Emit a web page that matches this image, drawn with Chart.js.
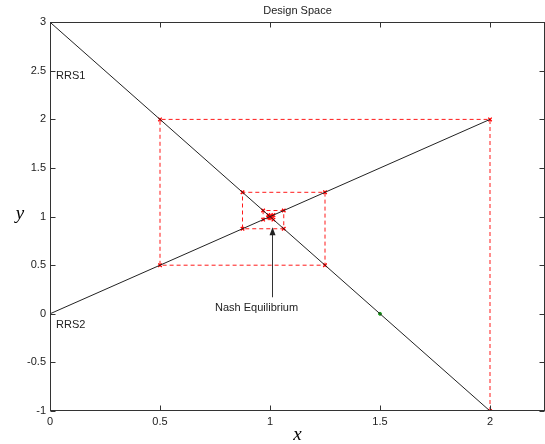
<!DOCTYPE html>
<html>
<head>
<meta charset="utf-8">
<script src="https://cdn.jsdelivr.net/npm/chart.js@4.4.1/dist/chart.umd.min.js"></script>
<style>
html,body{margin:0;padding:0;background:#fff;}
#wrap{width:545px;height:444px;}
</style>
</head>
<body>
<div id="wrap"><canvas id="c" width="545" height="444"></canvas></div>
<script>
// ---- data ----
const rrs1X = [0, 2];
const rrs1Y = [3, -1];
const rrs2X = [0, 2];
const rrs2Y = [0, 2];
const cobwebX = [2, 2, 0.5, 0.5, 1.25, 1.25, 0.875, 0.875, 1.0625, 1.0625, 0.96875, 0.96875, 1.015625, 1.015625, 0.9921875, 0.9921875, 1.0039, 1.0039, 0.998, 0.998, 1.001, 1.001, 1.0];
const cobwebY = [-1, 2, 2, 0.5, 0.5, 1.25, 1.25, 0.875, 0.875, 1.0625, 1.0625, 0.96875, 0.96875, 1.015625, 1.015625, 0.9921875, 0.9921875, 1.0039, 1.0039, 0.998, 0.998, 1.001, 1.0];
const markX = [1.5];
const markY = [0];
const xTicks = [0, 0.5, 1, 1.5, 2];
const yTicks = [-1, -0.5, 0, 0.5, 1, 1.5, 2, 2.5, 3];
const xRange = [0, 2.25];
const yRange = [-1, 3];
const titleText = 'Design Space';
const xLabel = 'x';
const yLabel = 'y';
const lineLabels = [{text: 'RRS1', x: 0, y: 2.45}, {text: 'RRS2', x: 0, y: -0.12}];
const arrowNote = {text: 'Nash Equilibrium', x0: 1.01, y0: 0.17, x1: 1.01, y1: 0.89, tx: 0.75, ty: 0.06};

const pts = (xs, ys) => xs.map((x, i) => ({x: x, y: ys[i]}));
const FONT = '"Liberation Sans", Arial, sans-serif';

const decor = {
  id: 'decor',
  afterDraw(chart) {
    const ctx = chart.ctx;
    const a = chart.chartArea;
    const xs = chart.scales.x, ys = chart.scales.y;
    ctx.save();
    // box
    ctx.strokeStyle = '#333';
    ctx.lineWidth = 1;
    const L = Math.round(a.left) + 0.5, R = Math.round(a.right) - 0.5;
    const T = Math.round(a.top) + 0.5, B = Math.round(a.bottom) - 0.5;
    ctx.strokeRect(L, T, R - L, B - T);
    // inward ticks
    ctx.beginPath();
    xTicks.forEach(v => {
      const px = Math.round(xs.getPixelForValue(v)) + 0.5;
      ctx.moveTo(px, B); ctx.lineTo(px, B - 5);
      ctx.moveTo(px, T); ctx.lineTo(px, T + 5);
    });
    yTicks.forEach(v => {
      const py = Math.round(ys.getPixelForValue(v)) + 0.5;
      ctx.moveTo(L, py); ctx.lineTo(L + 5, py);
      ctx.moveTo(R, py); ctx.lineTo(R - 5, py);
    });
    ctx.stroke();
    // line labels
    ctx.fillStyle = '#222';
    ctx.font = '11px ' + FONT;
    ctx.textBaseline = 'middle';
    ctx.textAlign = 'left';
    lineLabels.forEach(l => {
      ctx.fillText(l.text, xs.getPixelForValue(l.x) + 6, ys.getPixelForValue(l.y));
    });
    // arrow annotation
    const ax0 = Math.round(xs.getPixelForValue(arrowNote.x0)) + 0.5;
    const ay0 = ys.getPixelForValue(arrowNote.y0);
    const ay1 = ys.getPixelForValue(arrowNote.y1);
    ctx.strokeStyle = '#333';
    ctx.beginPath();
    ctx.moveTo(ax0, ay0); ctx.lineTo(ax0, ay1 + 6);
    ctx.stroke();
    ctx.fillStyle = '#222';
    ctx.beginPath();
    ctx.moveTo(ax0, ay1);
    ctx.lineTo(ax0 - 3, ay1 + 8);
    ctx.lineTo(ax0 + 3, ay1 + 8);
    ctx.closePath();
    ctx.fill();
    ctx.fillText(arrowNote.text, xs.getPixelForValue(arrowNote.tx), ys.getPixelForValue(arrowNote.ty));
    // axis labels
    ctx.font = 'italic 19px "Liberation Serif", "Times New Roman", serif';
    ctx.textAlign = 'center';
    ctx.fillStyle = '#000';
    ctx.fillText(xLabel, (a.left + a.right) / 2, 435);
    ctx.fillText(yLabel, 20, ys.getPixelForValue(1) - 3);
    ctx.restore();
  }
};

new Chart(document.getElementById('c'), {
  type: 'scatter',
  data: {
    datasets: [
      {data: pts(rrs1X, rrs1Y), showLine: true, borderColor: '#222', borderWidth: 1, pointRadius: 0},
      {data: pts(rrs2X, rrs2Y), showLine: true, borderColor: '#222', borderWidth: 1, pointRadius: 0},
      {data: pts(cobwebX, cobwebY), showLine: true, borderColor: '#ff1a1a', borderWidth: 1, borderDash: [4, 3],
       pointStyle: 'crossRot', pointRadius: 2.5, pointBorderColor: '#ff0000', pointBorderWidth: 1.3, pointBackgroundColor: '#ff0000'},
      {data: pts(markX, markY), showLine: false, pointRadius: 1.5, pointBackgroundColor: '#1a9a1a', pointBorderColor: '#1a9a1a'}
    ]
  },
  options: {
    responsive: false,
    animation: false,
    devicePixelRatio: 1,
    layout: {autoPadding: false, padding: {left: 0, right: 0, top: 0, bottom: 0}},
    plugins: {
      legend: {display: false},
      tooltip: {enabled: false},
      title: {display: true, text: titleText, fullSize: false, color: '#222',
        font: {size: 11, family: FONT, weight: 'normal'},
        padding: {top: 4, bottom: 5}}
    },
    scales: {
      x: {
        type: 'linear', min: xRange[0], max: xRange[1],
        grid: {display: false, drawTicks: false}, border: {display: false},
        afterBuildTicks: s => { s.ticks = xTicks.map(v => ({value: v})); },
        afterFit: s => { s.height = 33; s.paddingLeft = 0; s.paddingRight = 0; },
        ticks: {padding: 4, color: '#222', maxRotation: 0, autoSkip: false,
          font: {size: 11, family: FONT},
          callback: v => String(v)}
      },
      y: {
        type: 'linear', min: yRange[0], max: yRange[1],
        grid: {display: false, drawTicks: false}, border: {display: false},
        afterBuildTicks: s => { s.ticks = yTicks.map(v => ({value: v})); },
        afterFit: s => { s.width = 50; s.paddingTop = 0; s.paddingBottom = 0; },
        ticks: {padding: 4, color: '#222', autoSkip: false,
          font: {size: 11, family: FONT},
          callback: v => String(v)}
      }
    }
  },
  plugins: [decor]
});
</script>
</body>
</html>
